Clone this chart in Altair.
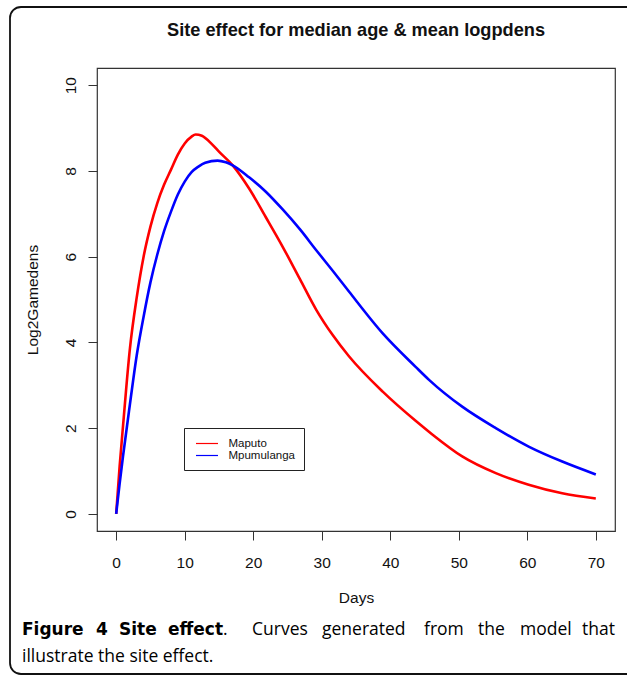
import altair as alt
import pandas as pd

# ---------------- data ----------------
series_names = ["Maputo", "Mpumulanga"]
series_colors = ["#ff0000", "#0000ff"]

maputo_days = [0, 0.5, 1, 2, 3, 4, 5, 6, 7, 8, 9, 10, 11, 11.6, 12.5, 14, 15, 17,
               19.4, 21.8, 24.3, 26.8, 29.2, 31.6, 34, 38.9, 43.7, 46, 50.5, 55.4, 60.2, 65.1, 70]
maputo_vals = [0, 1.1, 2.05, 3.85, 5.05, 6.0, 6.7, 7.25, 7.68, 8.03, 8.38, 8.64, 8.8, 8.85, 8.82, 8.62, 8.45, 8.13,
               7.59, 6.93, 6.23, 5.48, 4.76, 4.17, 3.67, 2.85, 2.17, 1.87, 1.34, 0.95, 0.68, 0.48, 0.36]

mpum_days = [0, 0.5, 1, 2, 3, 4, 5, 6, 7, 8, 9, 10, 11, 12, 13, 14.8, 16, 17,
             19.4, 21.8, 24.3, 26.8, 29.2, 31.6, 34, 38.9, 43.7, 45.7, 50.5, 55.4, 60.2, 65.1, 70]
mpum_vals = [0, 0.7, 1.35, 2.55, 3.7, 4.6, 5.4, 6.05, 6.6, 7.05, 7.45, 7.75, 7.97, 8.1, 8.19, 8.24, 8.2, 8.13,
             7.85, 7.52, 7.1, 6.64, 6.15, 5.67, 5.18, 4.21, 3.43, 3.12, 2.5, 2.0, 1.57, 1.22, 0.92]

x_ticks = [0, 10, 20, 30, 40, 50, 60, 70]
y_ticks = [0, 2, 4, 6, 8, 10]
x_domain = [-2.8, 72.8]
y_domain = [-0.4, 10.4]

title_text = "Site effect for median age & mean logpdens"
x_title = "Days"
y_title = "Log2Gamedens"

caption_bold_words = ["Figure", "4", "Site", "effect"]
caption_words_line1 = [".", "Curves", "generated", "from", "the", "model", "that"]
caption_line2 = "illustrate the site effect."

# ---------------- layout (pixels) ----------------
W, H = 627, 676
PL, PT = 97, 68           # plot area left/top
PW, PH = 518, 463         # plot area size
caption_bold_x = [22, 96, 119, 168]
caption_word_x = [223, 252, 322, 424, 478, 520, 615]
cap_y1, cap_y2 = 630, 657

FONT = "Liberation Sans"
CAP_FONT = "Open Sans"
CAP_BOLD_FONT = "DejaVu Sans"

df = pd.DataFrame({
    "day": maputo_days + mpum_days,
    "value": maputo_vals + mpum_vals,
    "site": [series_names[0]] * len(maputo_days) + [series_names[1]] * len(mpum_days),
})

lines = alt.Chart(df).mark_line(strokeWidth=2.6, interpolate="monotone").encode(
    x=alt.X("day:Q",
            scale=alt.Scale(domain=x_domain, nice=False, zero=False),
            axis=alt.Axis(values=x_ticks, title=x_title, domain=False, grid=False,
                          tickSize=9, tickColor="#333", tickWidth=1,
                          labelFontSize=15.5, labelFont=FONT, labelColor="#111",
                          labelPadding=15, labelFlush=False,
                          titleFontSize=15.5, titleFont=FONT, titleFontWeight="normal",
                          titleColor="#111", titleY=66, titleBaseline="middle")),
    y=alt.Y("value:Q",
            scale=alt.Scale(domain=y_domain, nice=False, zero=False),
            axis=alt.Axis(values=y_ticks, title=y_title, domain=False, grid=False,
                          tickSize=9, tickColor="#333", tickWidth=1,
                          labelFontSize=15.5, labelFont=FONT, labelColor="#111",
                          labelAngle=270, labelAlign="center", labelBaseline="bottom",
                          labelPadding=10, labelFlush=False,
                          titleFontSize=15.5, titleFont=FONT, titleFontWeight="normal",
                          titleColor="#111", titleX=-65, titleY=PH / 2,
                          titleAngle=270, titleAlign="center", titleBaseline="middle")),
    color=alt.Color("site:N",
                    scale=alt.Scale(domain=series_names, range=series_colors),
                    legend=alt.Legend(orient="none", legendX=87, legendY=360, title=None,
                                      symbolType="M-2,0L2,0", symbolSize=121,
                                      symbolStrokeWidth=1.2, labelFontSize=11.5, labelFont=FONT,
                                      labelColor="#111", strokeColor="#222", fillColor="white",
                                      padding=9, rowPadding=0, labelOffset=15,
                                      symbolOffset=7.5)),
)

one = pd.DataFrame({"k": [0]})

border = alt.Chart(one).mark_rect(fillOpacity=0, stroke="#111", strokeWidth=1.8,
                                  cornerRadius=11).encode(
    x=alt.value(10 - PL), x2=alt.value(W + 20 - PL),
    y=alt.value(7 - PT), y2=alt.value(674 - PT),
)

title = alt.Chart(one).mark_text(text=title_text, font=FONT, fontSize=18.2, fontWeight="bold",
                                 color="#111", align="center", baseline="middle").encode(
    x=alt.value(PW / 2), y=alt.value(31 - PT))

layers = [border, lines, title]

for word, wx in zip(caption_bold_words, caption_bold_x):
    layers.append(alt.Chart(one).mark_text(text=word, font=CAP_BOLD_FONT, fontSize=17,
                                           fontWeight="bold", color="#000", align="left",
                                           baseline="middle").encode(
        x=alt.value(wx - PL), y=alt.value(cap_y1 - PT)))
for i, (word, wx) in enumerate(zip(caption_words_line1, caption_word_x)):
    last = i == len(caption_words_line1) - 1
    layers.append(alt.Chart(one).mark_text(text=word, font=CAP_FONT, fontSize=17.5,
                                           color="#000", align="right" if last else "left",
                                           baseline="middle").encode(
        x=alt.value(wx - PL), y=alt.value(cap_y1 - PT)))
layers.append(alt.Chart(one).mark_text(text=caption_line2, font=CAP_FONT, fontSize=17.5,
                                       color="#000", align="left", baseline="middle").encode(
    x=alt.value(22 - PL), y=alt.value(cap_y2 - PT)))

chart = alt.layer(*layers).properties(
    width=PW, height=PH,
    autosize=alt.AutoSizeParams(type="none"),
    padding={"left": PL, "top": PT, "right": W - PL - PW, "bottom": H - PT - PH},
    background="white",
).configure_view(stroke="#333", strokeWidth=1.2)

chart.save("out.html", embed_options={"renderer": "svg", "actions": False})
